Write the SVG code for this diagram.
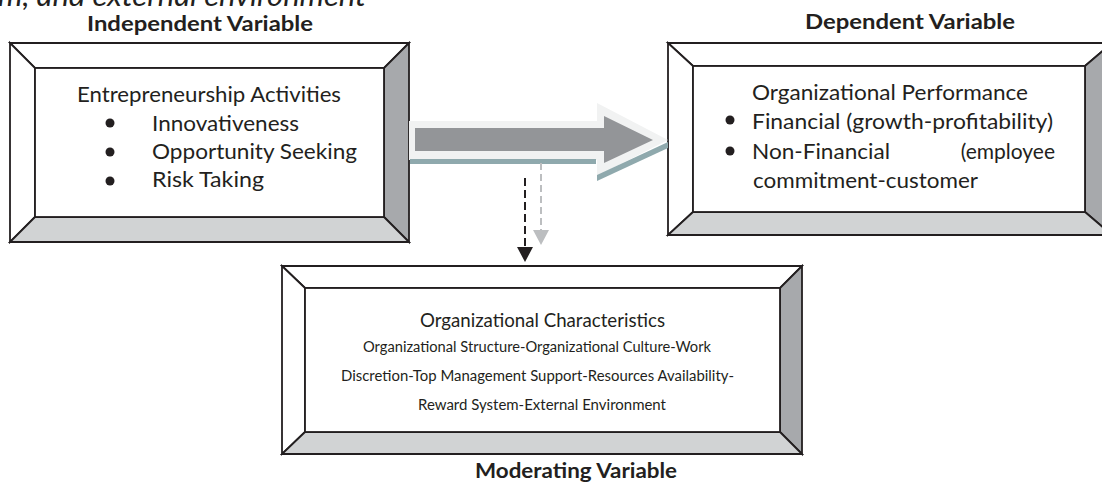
<svg xmlns="http://www.w3.org/2000/svg" width="1102" height="485" viewBox="0 0 1102 485">
<style>
text{font-family:Lato,"Liberation Sans",sans-serif;fill:#231f20}
.lbl{font-weight:bold;font-size:21px}
.t{font-size:21px}
.s{font-size:14.5px}
.edge{stroke:#231f20;stroke-width:1.8;stroke-linejoin:miter}
.wt{fill:#ffffff}
.rs{fill:#a7a9ac}
.bs{fill:#d1d3d4}
.bul{fill:#231f20}
</style>
<rect width="1102" height="485" fill="#ffffff"/>
<text x="-2" y="6" style="font-style:italic;font-size:28px" textLength="368" lengthAdjust="spacingAndGlyphs">m, and external environment</text>

<g id="independent">
<g class="edge">
<polygon class="wt" points="10,43 409,43 384,68 35,68"/>
<polygon class="wt" points="10,43 35,68 35,217 10,242"/>
<polygon class="rs" points="409,43 409,242 384,217 384,68"/>
<polygon class="bs" points="10,242 409,242 384,217 35,217"/>
<rect x="35" y="68" width="349" height="149" class="wt"/>
</g>
<text class="lbl" x="87" y="31" textLength="226" lengthAdjust="spacingAndGlyphs">Independent Variable</text>
<text class="t" x="77" y="102" textLength="264" lengthAdjust="spacingAndGlyphs">Entrepreneurship Activities</text>
<circle class="bul" cx="110" cy="123" r="4.5"/>
<circle class="bul" cx="110" cy="152" r="4.5"/>
<circle class="bul" cx="110" cy="181" r="4.5"/>
<text class="t" x="152" y="131" textLength="147" lengthAdjust="spacingAndGlyphs">Innovativeness</text>
<text class="t" x="152" y="159" textLength="205" lengthAdjust="spacingAndGlyphs">Opportunity Seeking</text>
<text class="t" x="152" y="187" textLength="112" lengthAdjust="spacingAndGlyphs">Risk Taking</text>
</g>

<g id="dependent">
<g class="edge">
<polygon class="wt" points="668,43 1112,43 1085,66 693,66"/>
<polygon class="wt" points="668,43 693,66 693,212 668,235"/>
<polygon class="rs" points="1112,43 1112,235 1085,212 1085,66"/>
<polygon class="bs" points="668,235 1112,235 1085,212 693,212"/>
<rect x="693" y="66" width="392" height="146" class="wt"/>
</g>
<text class="lbl" x="805" y="29" textLength="210" lengthAdjust="spacingAndGlyphs">Dependent Variable</text>
<text class="t" x="752" y="100" textLength="276" lengthAdjust="spacingAndGlyphs">Organizational Performance</text>
<circle class="bul" cx="730" cy="120" r="4.5"/>
<circle class="bul" cx="730" cy="151" r="4.5"/>
<text class="t" x="752" y="129" textLength="301" lengthAdjust="spacingAndGlyphs">Financial (growth-profitability)</text>
<text class="t" x="752" y="159" textLength="138" lengthAdjust="spacingAndGlyphs">Non-Financial</text>
<text class="t" x="1055" y="159" text-anchor="end">(employee</text>
<text class="t" x="753" y="188" textLength="225" lengthAdjust="spacingAndGlyphs">commitment-customer</text>
</g>

<g id="moderating">
<g class="edge">
<polygon class="wt" points="282,266 802,266 780,288 305,288"/>
<polygon class="wt" points="282,266 305,288 305,432 282,454"/>
<polygon class="rs" points="802,266 802,454 780,432 780,288"/>
<polygon class="bs" points="282,454 802,454 780,432 305,432"/>
<rect x="305" y="288" width="475" height="144" class="wt"/>
</g>
<text class="t" x="420" y="327" style="font-size:19px" textLength="245" lengthAdjust="spacingAndGlyphs">Organizational Characteristics</text>
<text class="s" x="363" y="352" textLength="348" lengthAdjust="spacingAndGlyphs">Organizational Structure-Organizational Culture-Work</text>
<text class="s" x="341" y="381" textLength="393" lengthAdjust="spacingAndGlyphs">Discretion-Top Management Support-Resources Availability-</text>
<text class="s" x="418" y="410" textLength="248" lengthAdjust="spacingAndGlyphs">Reward System-External Environment</text>
<text class="lbl" x="475" y="478" textLength="202" lengthAdjust="spacingAndGlyphs">Moderating Variable</text>
</g>

<g id="connectors">
<polygon points="409,121 597,121 597,103 668,140 597,176 597,160 409,160" fill="#f1f2f2"/>
<rect x="410" y="159" width="186" height="5" fill="#8fa9ad"/>
<polygon points="597,175 668,142 668,148 597,181" fill="#8fa9ad"/>
<polygon points="415,128 604,128 604,116 653,140 604,163 604,151 415,151" fill="#939598"/>
<line x1="541" y1="163" x2="541" y2="231" stroke="#bcbec0" stroke-width="2" stroke-dasharray="7,4"/>
<polygon points="533,230 549,230 541,245" fill="#bcbec0"/>
<line x1="525" y1="178" x2="525" y2="248" stroke="#231f20" stroke-width="2" stroke-dasharray="8,4"/>
<polygon points="517,247 533,247 525,262" fill="#231f20"/>
</g>
</svg>
